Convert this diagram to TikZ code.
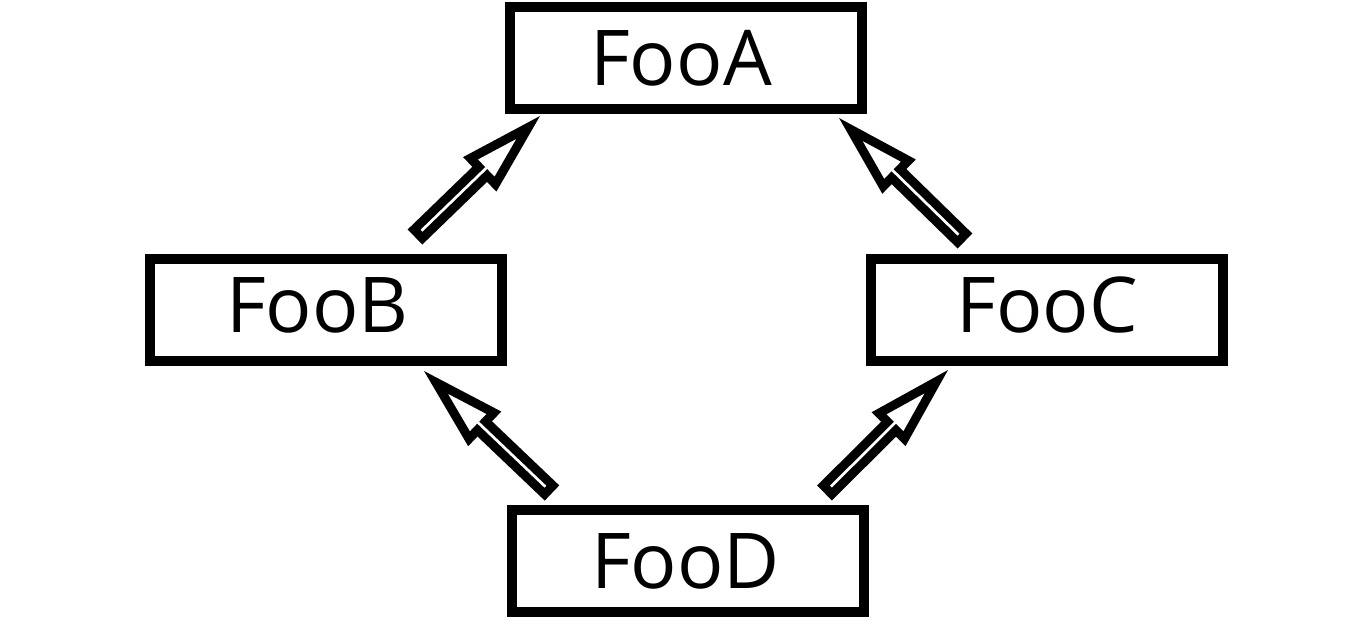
\documentclass[tikz,border=0pt]{standalone}
\usepackage{fontspec}
\setmainfont{Open Sans}
\usetikzlibrary{calc}
\tikzset{
  foobox/.style={draw=black, line width=10pt, rectangle, minimum width=352pt,
    minimum height=102pt, inner sep=0pt, fill=white,
    font=\fontsize{77}{90}\selectfont, text height=55pt, text depth=0pt},
  raised/.style={text depth=10pt},
  fatarrow/.style={draw=black, line width=9pt, fill=white, line join=miter},
}
\newcommand\fatarr[2]{%
  \coordinate (#1c) at ($(#1)!4.5pt!(#2)$);
  \coordinate (#2c) at ($(#2)!16.4pt!(#1)$);
  \coordinate (#2b) at ($(#2c)!63pt!(#1c)$);
  \draw[fatarrow] ($(#1c)!6pt!90:(#2c)$) -- ($(#2b)!6pt!90:(#2c)$)
    -- ($(#2b)!18pt!90:(#2c)$) -- (#2c) -- ($(#2b)!18pt!-90:(#2c)$)
    -- ($(#2b)!6pt!-90:(#2c)$) -- ($(#1c)!6pt!-90:(#2c)$) -- cycle;
}
\begin{document}
\begin{tikzpicture}[x=1pt, y=-1pt]
\useasboundingbox (0,0) rectangle (1350,629);
\node[foobox] (A) at (686,58) {FooA\hspace*{10pt}};
\node[foobox, raised] (B) at (325.5,309.5) {FooB\hspace*{16pt}};
\node[foobox, raised] (C) at (1047,309.5) {FooC};
\node[foobox] (D) at (687.5,560.5) {FooD\hspace*{4pt}};
\coordinate (tBA) at (415,237);
\coordinate (hBA) at (540,116);
\coordinate (tCA) at (965,241);
\coordinate (hCA) at (839,118);
\coordinate (tDB) at (552,493);
\coordinate (hDB) at (424,371);
\coordinate (tDC) at (824.5,493);
\coordinate (hDC) at (948,370);
\fatarr{tBA}{hBA}
\fatarr{tCA}{hCA}
\fatarr{tDB}{hDB}
\fatarr{tDC}{hDC}
\end{tikzpicture}
\end{document}
